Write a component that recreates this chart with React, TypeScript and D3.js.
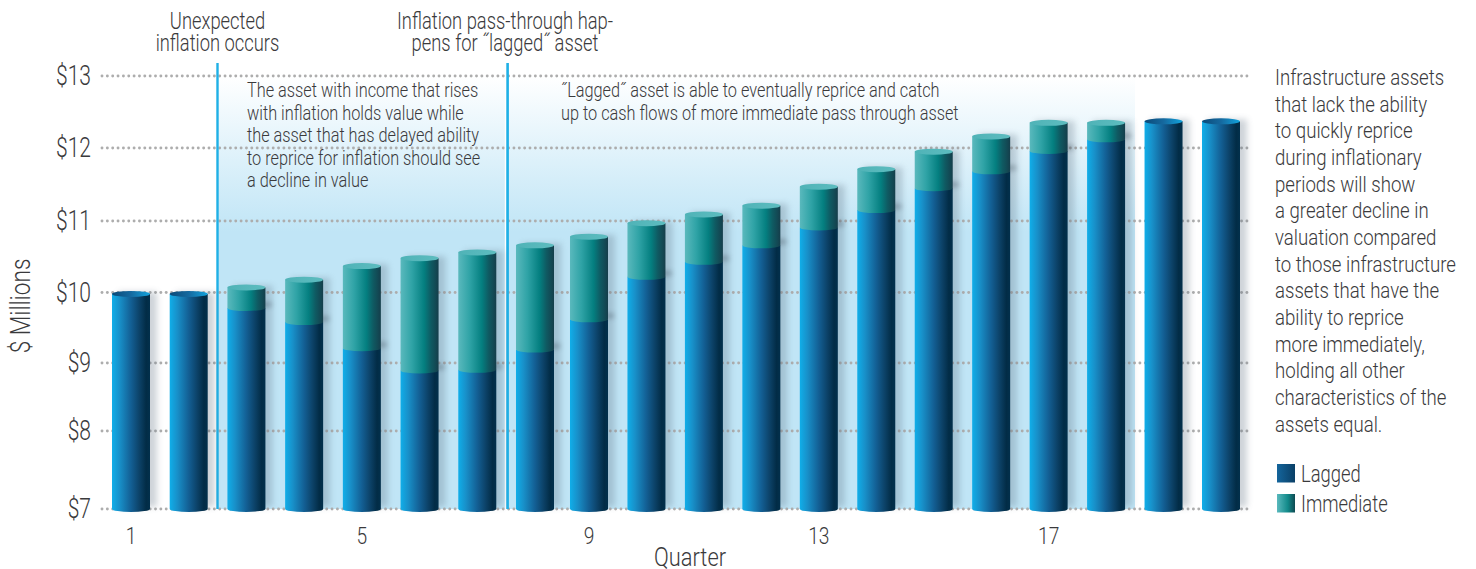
import React from "react";
import * as d3 from "d3";

const quarters = d3.range(1, 21);
const lagged = [9.98, 9.98, 9.78, 9.58, 9.21, 8.89, 8.9, 9.19, 9.62, 10.22, 10.43, 10.66, 10.91, 11.15, 11.45, 11.68, 11.96, 12.12, 12.37, 12.37];
const immediate = [9.98, 9.98, 10.07, 10.18, 10.37, 10.48, 10.56, 10.66, 10.78, 10.97, 11.09, 11.21, 11.47, 11.71, 11.95, 12.16, 12.35, 12.35, 12.37, 12.37];
const yTicks = [7, 8, 9, 10, 11, 12, 13];
const yPixels = [509, 431, 363, 292.5, 221, 148, 76];
const xLabels = [1, 5, 9, 13, 17];
const headA = ["Unexpected", "inflation occurs"];
const headB = ["Inflation pass-through hap-", "pens for ˝lagged˝ asset"];
const noteA = ["The asset with income that rises", "with inflation holds value while", "the asset that has delayed ability", "to reprice for inflation should see", "a decline in value"];
const noteB = ["˝Lagged˝ asset is able to eventually reprice and catch", "up to cash flows of more immediate pass through asset"];
const sideNote = ["Infrastructure assets", "that lack the ability", "to quickly reprice", "during inflationary", "periods will show", "a greater decline in", "valuation compared", "to those infrastructure", "assets that have the", "ability to reprice", "more immediately,", "holding all other", "characteristics of the", "assets equal."];
const legendItems = ["Lagged", "Immediate"];

const W = 1476, H = 569;
const FONT = "Roboto, 'Liberation Sans', sans-serif";
const INK = "#3a3a3c";

const y = d3.scaleLinear().domain(yTicks).range(yPixels);
const xCenter = d3.scaleLinear().domain([1, 8, 9, 20]).range([131, 535, 589, 1221]);
const BW = 38;
const gridDots = d3.range(102, 1251, 5.35);

function T({ x, y, s, size, k = 0.8, anchor = "start", rotate = 0 }: { x: number; y: number; s: string | number; size: number; k?: number; anchor?: string; rotate?: number }) {
  return (
    <text transform={`translate(${x},${y}) rotate(${rotate}) scale(${k},1)`} fontSize={size} fontWeight={300} fill={INK} textAnchor={anchor}>
      {s}
    </text>
  );
}

export default function App() {
  const ry = 3;
  return (
    <svg width={W} height={H} style={{ position: "absolute", left: 0, top: 0, fontFamily: FONT }}>
      <defs>
        <linearGradient id="lag" x1="0" x2="1" y1="0" y2="0">
          <stop offset="0" stopColor="#10aee9" />
          <stop offset="0.2" stopColor="#1890c9" />
          <stop offset="0.5" stopColor="#135f94" />
          <stop offset="0.72" stopColor="#0c4268" />
          <stop offset="0.9" stopColor="#022c46" />
          <stop offset="1" stopColor="#02304c" />
        </linearGradient>
        <linearGradient id="lagTop" x1="0" x2="1" y1="0" y2="0">
          <stop offset="0" stopColor="#0b4a78" />
          <stop offset="0.5" stopColor="#15699f" />
          <stop offset="1" stopColor="#12a4de" />
        </linearGradient>
        <linearGradient id="imm" x1="0" x2="1" y1="0" y2="0">
          <stop offset="0" stopColor="#5ab9bd" />
          <stop offset="0.3" stopColor="#2fa3a6" />
          <stop offset="0.62" stopColor="#047f80" />
          <stop offset="0.8" stopColor="#0f5a62" />
          <stop offset="1" stopColor="#153e4b" />
        </linearGradient>
        <linearGradient id="immTop" x1="0" x2="1" y1="0" y2="0">
          <stop offset="0" stopColor="#4fb3b7" />
          <stop offset="1" stopColor="#5dbcbf" />
        </linearGradient>
        <linearGradient id="legLag" x1="0" x2="1" y1="0" y2="0">
          <stop offset="0" stopColor="#14659c" />
          <stop offset="1" stopColor="#0a3f66" />
        </linearGradient>
        <linearGradient id="legImm" x1="0" x2="1" y1="0" y2="0">
          <stop offset="0" stopColor="#5ab9bd" />
          <stop offset="0.6" stopColor="#128a8a" />
          <stop offset="1" stopColor="#0e4a52" />
        </linearGradient>
        <linearGradient id="wash" x1="0" x2="0" y1="0" y2="1">
          <stop offset="0" stopColor="#c0e5f6" stopOpacity="0" />
          <stop offset="0.36" stopColor="#c0e5f6" stopOpacity="1" />
          <stop offset="1" stopColor="#c0e5f6" stopOpacity="1" />
        </linearGradient>
        <filter id="soft" x="-40%" y="-10%" width="180%" height="120%">
          <feGaussianBlur stdDeviation="3" />
        </filter>
        <filter id="patch" x="-100%" y="-200%" width="300%" height="500%">
          <feGaussianBlur stdDeviation="2.5" />
        </filter>
      </defs>

      <rect x={217} y={y(13)} width={1135 - 217} height={y(7) - y(13)} fill="url(#wash)" />

      {yTicks.map((t) => (
        <g key={t}>
          {gridDots.map((d) => (
            <circle key={d} cx={d} cy={y(t)} r={1.45} fill="#adadad" />
          ))}
        </g>
      ))}

      <line x1={505.4} x2={505.4} y1={78} y2={y(7)} stroke="#ffffff" strokeWidth={1.2} />
      <line x1={217.5} x2={217.5} y1={63} y2={y(7)} stroke="#1fb0e6" strokeWidth={2.4} />
      <line x1={507.6} x2={507.6} y1={63} y2={y(7)} stroke="#1fb0e6" strokeWidth={2.6} />

      {quarters.map((q, i) => {
        const bx = xCenter(q) - BW / 2;
        const lagTop = y(lagged[i]);
        const immTop = y(immediate[i]);
        const base = y(7);
        const hasImm = immediate[i] > lagged[i];
        const top = hasImm ? immTop : lagTop;
        return (
          <g key={q}>
            <rect x={bx + 6} y={top - 2} width={BW + 1} height={base - top} fill="#5d6f80" opacity={0.3} filter="url(#soft)" />
            {hasImm && <rect x={bx + BW - 4} y={lagTop - 6} width={10} height={5} fill="#3a4a55" opacity={0.35} filter="url(#patch)" />}
            <path d={`M${bx},${lagTop} V${base} A${BW / 2},${ry} 0 0 0 ${bx + BW},${base} V${lagTop} Z`} fill="url(#lag)" />
            {!hasImm && <ellipse cx={bx + BW / 2} cy={lagTop} rx={BW / 2} ry={ry} fill="url(#lagTop)" />}
            {hasImm && (
              <>
                <path d={`M${bx},${immTop} V${lagTop} A${BW / 2},${ry} 0 0 0 ${bx + BW},${lagTop} V${immTop} Z`} fill="url(#imm)" />
                <ellipse cx={bx + BW / 2} cy={immTop} rx={BW / 2} ry={ry} fill="url(#immTop)" />
              </>
            )}
          </g>
        );
      })}

      {yTicks.map((t) => (
        <T key={t} x={91} y={y(t) + 9} s={`$${t}`} size={27} k={0.78} anchor="end" />
      ))}
      {xLabels.map((q) => (
        <T key={q} x={xCenter(q)} y={544} s={q} size={24} k={0.8} anchor="middle" />
      ))}
      <T x={690} y={566} s="Quarter" size={26} k={0.84} anchor="middle" />
      <T x={30} y={306} s="$ Millions" size={27} k={0.84} anchor="middle" rotate={-90} />

      {headA.map((s, i) => <T key={s} x={217.5} y={29 + i * 21.8} s={s} size={24} k={0.765} anchor="middle" />)}
      {headB.map((s, i) => <T key={s} x={505} y={29 + i * 21.8} s={s} size={24} k={0.765} anchor="middle" />)}
      {noteA.map((s, i) => <T key={s} x={247} y={97 + i * 22.5} s={s} size={20} k={0.815} />)}
      {noteB.map((s, i) => <T key={s} x={561} y={97 + i * 22.5} s={s} size={20} k={0.815} />)}
      {sideNote.map((s, i) => <T key={s} x={1275} y={85 + i * 26.67} s={s} size={23} k={0.81} />)}
      {legendItems.map((s, i) => (
        <g key={s}>
          <rect x={1277} y={464 + i * 30} width={18} height={18.5} fill={i === 0 ? "url(#legLag)" : "url(#legImm)"} />
          <T x={1301} y={482 + i * 30} s={s} size={23} k={0.8} />
        </g>
      ))}
    </svg>
  );
}
